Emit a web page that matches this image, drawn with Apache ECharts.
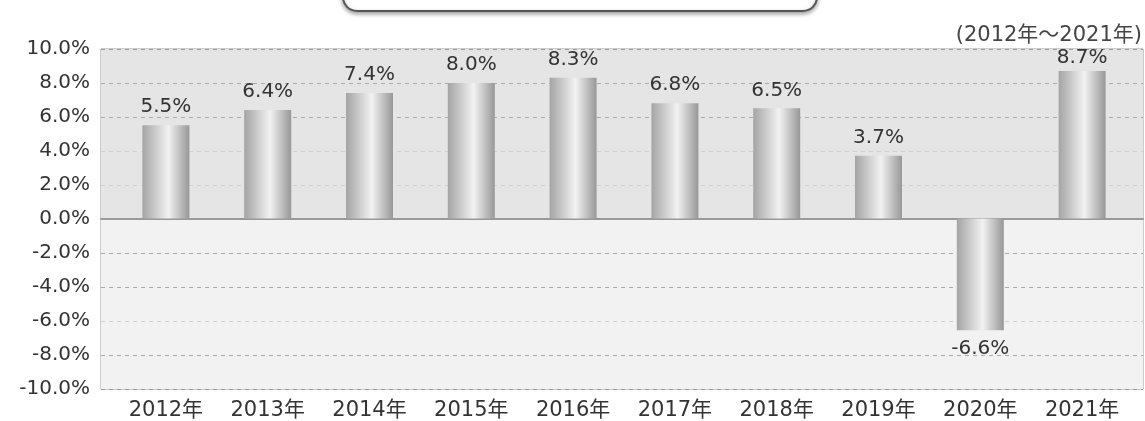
<!DOCTYPE html>
<html><head><meta charset="utf-8">
<script src="https://cdn.jsdelivr.net/npm/echarts@6/dist/echarts.min.js"></script>
<style>html,body{margin:0;padding:0;background:#fff;}#c{width:1145px;height:421px;}</style>
</head><body><div id="c"></div>
<script>
const categories = ['2012年','2013年','2014年','2015年','2016年','2017年','2018年','2019年','2020年','2021年'];
const growth = [5.5, 6.4, 7.4, 8.0, 8.3, 6.8, 6.5, 3.7, -6.6, 8.7];
const periodNote = '(2012年～2021年)';
const yMin = -10, yMax = 10, yStep = 2;

const FONT = '"DejaVu Sans", "Noto Sans CJK JP", sans-serif';
const chart = echarts.init(document.getElementById('c'));
const barGrad = new echarts.graphic.LinearGradient(0, 0, 1, 0, [
  {offset: 0, color: '#a4a4a4'},
  {offset: 0.55, color: '#f2f2f2'},
  {offset: 1, color: '#979797'}
]);
const barData = growth.map(v => ({
  value: v,
  label: {position: v < 0 ? 'bottom' : 'top'}
}));
chart.setOption({
  animation: false,
  textStyle: {fontFamily: FONT},
  title: {
    text: periodNote, right: -2, top: 20,
    textStyle: {fontFamily: FONT, fontSize: 21, fontWeight: 'normal', color: '#444'}
  },
  graphic: [{
    type: 'rect', left: 342, top: -40, z: 10,
    shape: {width: 474, height: 50, r: 14},
    style: {fill: '#fff', stroke: '#555', lineWidth: 2, shadowBlur: 4, shadowOffsetY: 2, shadowColor: 'rgba(0,0,0,0.35)'}
  }],
  grid: [
    {left: 115, right: 12, top: 49, bottom: 32},
    {left: 101, right: 2, top: 49, bottom: 32, show: true, borderColor: '#9a9a9a', borderWidth: 1, backgroundColor: 'transparent'}
  ],
  xAxis: [
    {type: 'category', gridIndex: 0, data: categories,
     axisLine: {show: false}, axisTick: {show: false},
     axisLabel: {fontSize: 21, color: '#333', margin: 12, fontFamily: FONT}},
    {type: 'value', gridIndex: 1, min: 0, max: 1, show: true,
     axisLine: {show: true, onZero: true, lineStyle: {color: '#999', width: 2}},
     axisTick: {show: false}, axisLabel: {show: false}, splitLine: {show: false}}
  ],
  yAxis: [
    {type: 'value', gridIndex: 0, min: yMin, max: yMax, interval: yStep, show: false},
    {type: 'value', gridIndex: 1, min: yMin, max: yMax, interval: yStep,
     axisLine: {show: false}, axisTick: {show: false},
     axisLabel: {fontSize: 20, color: '#333', margin: 11, fontFamily: FONT,
       formatter: v => v.toFixed(1) + '%'},
     splitArea: {show: true, areaStyle: {color: ['#f2f2f2','#f2f2f2','#f2f2f2','#f2f2f2','#f2f2f2','#e5e5e5','#e5e5e5','#e5e5e5','#e5e5e5','#e5e5e5']}},
     splitLine: {show: true, lineStyle: {type: [4, 4], width: 1,
       color: ['#9a9a9a','#aaaaaa','#d0d0d0','#aaaaaa','#aaaaaa','rgba(0,0,0,0)','#d0d0d0','#d0d0d0','#aaaaaa','#aaaaaa','#9a9a9a']}}}
  ],
  series: [{
    type: 'bar', xAxisIndex: 0, yAxisIndex: 0, z: 3,
    data: barData, barWidth: 47,
    itemStyle: {color: barGrad},
    label: {show: true, distance: 8, fontSize: 20, color: '#333', fontFamily: FONT,
      formatter: p => p.value.toFixed(1) + '%'},
    labelLayout: p => {
      const top = p.labelRect.y;
      return top < 48 ? {dy: 48 - top} : {};
    }
  }]
});
</script></body></html>
